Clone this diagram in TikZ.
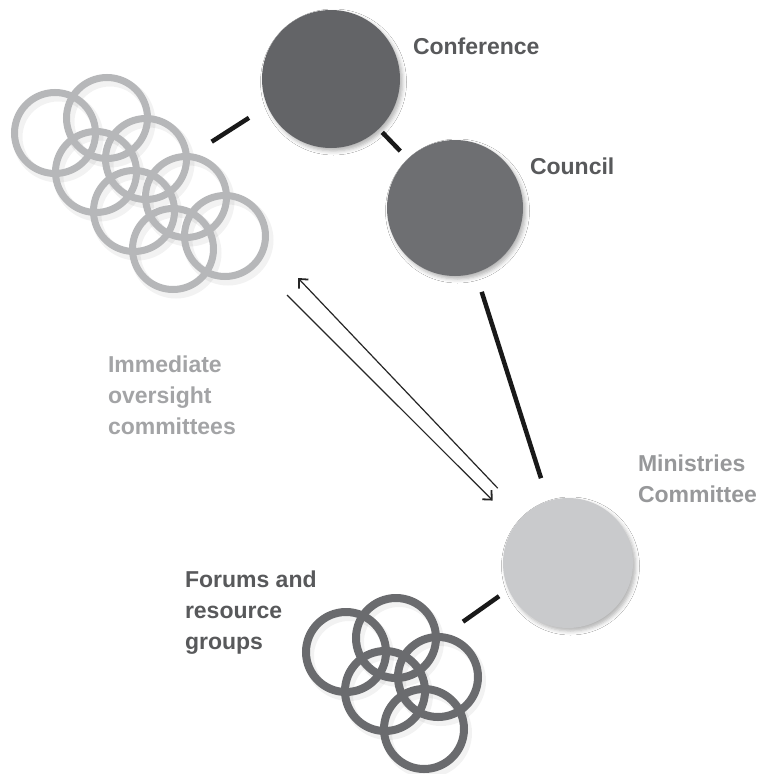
\documentclass[tikz,border=0pt]{standalone}
\usepackage{fontspec}
\setmainfont{Liberation Sans}
\usetikzlibrary{arrows.meta,shadows.blur}
\definecolor{conffill}{HTML}{636467}
\definecolor{councilfill}{HTML}{6E6F72}
\definecolor{minfill}{HTML}{C9CACC}
\definecolor{lightring}{HTML}{B6B7B9}
\definecolor{darkring}{HTML}{6A6B6E}
\definecolor{txtdark}{HTML}{58595B}
\definecolor{txtmid}{HTML}{97989A}
\definecolor{txtlight}{HTML}{A3A4A6}
\begin{document}
\begin{tikzpicture}[x=1pt,y=-1pt,
  body/.style={circle, inner sep=0pt, outer sep=0pt, draw=none, minimum size=#1,
    blur shadow={shadow xshift=2.5pt, shadow yshift=-3pt, shadow blur radius=4pt, shadow opacity=30}},
  lring/.style={draw=lightring, line width=7pt},
  dring/.style={draw=darkring, line width=8pt},
  ringshade/.style={draw=black, opacity=0.05, line width=10pt},
  link/.style={draw=black!90, line width=4.5pt},
  arr/.style={draw=black!85, line width=1.2pt, -{Straight Barb[length=7pt,width=13pt,line width=1.8pt]}},
  lbl/.style={inner sep=0pt, outer sep=0pt, anchor=north west, align=left,
    font=\fontsize{23}{31}\selectfont\bfseries}]
\useasboundingbox[fill=white] (0,0) rectangle (765,774);

% light rings (immediate oversight committees)
\foreach \x/\y in {55/133,107/118,96/172,146/159,134/211,186/197,173/249,225/236}
  \draw[ringshade] (\x+3,\y+4) circle[radius=40.5];
\foreach \x/\y in {55/133,107/118,96/172,146/159,134/211,186/197,173/249,225/236}
  \draw[lring] (\x,\y) circle[radius=40.5];

% dark rings (forums and resource groups)
\foreach \x/\y in {346/652,396/638,438/677,385/691,424/729}
  \draw[ringshade] (\x+3,\y+4) circle[radius=40];
\foreach \x/\y in {346/652,396/638,438/677,385/691,424/729}
  \draw[dring] (\x,\y) circle[radius=40];

% bodies
\node[body=138pt, fill=conffill] (conf) at (331,79) {};
\node[body=136pt, fill=councilfill] (council) at (455,208) {};
\node[body=130pt, fill=minfill] (min) at (568,563) {};

% connector end points at the ring clusters
\coordinate (ovlink) at (211.7,141.7);
\coordinate (ovin) at (298,278);
\coordinate (ovout) at (287,295);
\coordinate (frlink) at (463,621.7);

% connectors
\draw[link, shorten <=5pt, shorten >=11pt] (conf) -- (council);
\draw[link, shorten <=20pt, shorten >=24pt] (council) -- (min);
\draw[link, shorten >=22pt] (ovlink) -- (conf.203);
\draw[link, shorten >=11.7pt] (frlink) -- (min.204.6);
\draw[arr, shorten <=37.6pt] (min.133) -- (ovin);
\draw[arr, shorten >=33pt] (ovout) -- (min.143.7);

% labels
\node[lbl, text=txtdark] (conflbl) at (413,38) {Conference};
\node[lbl, text=txtdark] (councillbl) at (530,158) {Council};
\node[lbl, text=txtmid] (minlbl) at (638,455) {Ministries\\Committee};
\node[lbl, text=txtlight] (ovlbl) at (108,356) {Immediate\\oversight\\committees};
\node[lbl, text=txtdark] (frlbl) at (185,571) {Forums and\\resource\\groups};
\end{tikzpicture}
\end{document}
